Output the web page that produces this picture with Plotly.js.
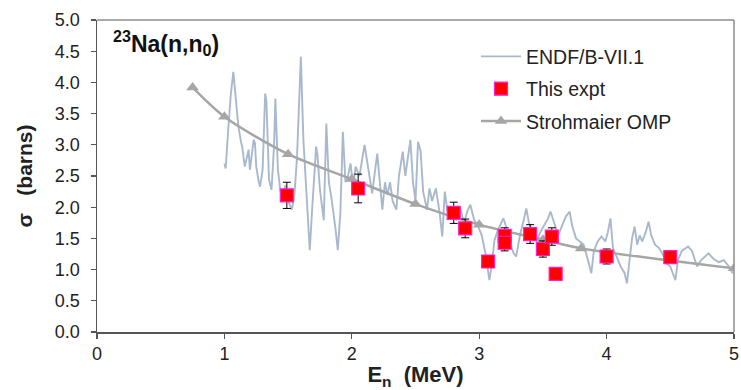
<!DOCTYPE html>
<html>
<head>
<meta charset="utf-8">
<script src="https://cdn.plot.ly/plotly-3.0.1.min.js"></script>
<style>html,body{margin:0;padding:0;background:#fff;}#chart{width:741px;height:390px;}</style>
</head>
<body>
<div id="chart"></div>
<script>
// ENDF/B-VII.1 evaluation
const endfE = [1.00,1.01,1.03,1.05,1.07,1.09,1.11,1.13,1.14,1.16,1.18,1.19,1.20,1.22,1.23,1.24,1.25,1.27,1.28,1.30,1.32,1.33,1.35,1.37,1.39,1.40,1.42,1.44,1.46,1.48,1.50,1.53,1.55,1.57,1.60,1.62,1.64,1.67,1.69,1.72,1.73,1.75,1.78,1.80,1.82,1.84,1.87,1.89,1.91,1.93,1.95,1.97,1.99,2.01,2.03,2.06,2.10,2.12,2.16,2.18,2.20,2.22,2.24,2.26,2.28,2.30,2.32,2.35,2.37,2.40,2.42,2.46,2.48,2.50,2.52,2.54,2.56,2.59,2.61,2.63,2.66,2.69,2.71,2.73,2.75,2.78,2.82,2.85,2.88,2.91,2.93,2.96,2.99,3.02,3.05,3.08,3.10,3.12,3.15,3.19,3.21,3.24,3.27,3.29,3.32,3.35,3.37,3.39,3.42,3.45,3.48,3.51,3.54,3.56,3.59,3.62,3.65,3.68,3.71,3.73,3.76,3.79,3.82,3.86,3.88,3.90,3.93,3.96,3.99,4.01,4.03,4.05,4.08,4.11,4.14,4.16,4.18,4.20,4.22,4.24,4.26,4.28,4.31,4.33,4.35,4.38,4.41,4.44,4.47,4.50,4.54,4.56,4.59,4.62,4.64,4.67,4.71,4.74,4.77,4.80,4.84,4.88,4.92,4.96,4.99];
const endfSigma = [2.70,2.62,3.24,3.80,4.17,3.70,3.29,3.05,2.97,2.65,2.85,2.92,2.60,2.90,3.08,3.02,2.65,2.40,2.33,2.60,3.82,3.70,2.44,2.28,3.00,3.74,2.60,2.25,2.20,2.35,2.10,1.96,2.20,2.80,4.41,3.08,2.30,1.31,2.01,2.97,2.85,2.28,1.79,3.34,2.40,2.15,1.69,1.31,1.90,3.21,2.40,2.50,2.70,2.35,2.65,2.50,3.00,2.72,2.22,2.55,2.86,2.40,1.96,2.40,2.20,2.40,2.10,1.96,2.50,2.89,2.50,3.08,2.40,2.10,3.05,2.90,2.25,1.96,2.30,2.10,2.30,1.90,1.53,2.25,1.95,1.85,1.80,2.00,1.75,1.95,2.04,1.80,1.70,1.55,1.25,0.83,1.10,1.47,1.65,1.82,1.70,1.45,1.26,1.21,1.55,1.80,1.98,1.75,1.60,1.45,1.60,1.70,1.82,1.93,1.75,1.55,1.70,1.85,1.93,1.70,1.50,1.45,1.40,1.10,0.94,1.30,1.45,1.53,1.45,1.60,1.82,1.35,1.20,1.05,0.95,0.78,1.15,1.50,1.69,1.40,1.55,1.45,1.62,1.77,1.55,1.40,1.35,1.25,1.10,1.05,0.83,1.15,1.30,1.35,1.37,1.30,1.05,1.15,1.20,1.26,1.17,1.12,1.15,1.05,0.94];

// This experiment
const exptE = [1.49,2.05,2.80,2.89,3.07,3.20,3.20,3.40,3.50,3.57,3.60,4.00,4.50];
const exptSigma = [2.19,2.30,1.91,1.66,1.13,1.54,1.43,1.57,1.33,1.53,0.93,1.21,1.20];
const exptErr = [0.21,0.23,0.17,0.15,0.05,0.13,0.13,0.15,0.13,0.14,0.05,0.12,0.10];

// Strohmaier OMP
const ompE = [0.75,1.0,1.5,2.0,2.5,3.0,3.5,3.8,5.0];
const ompSigma = [3.92,3.45,2.85,2.45,2.05,1.72,1.48,1.34,1.02];

const FONT = 'Liberation Sans, Arial, sans-serif';

const traces = [
  {x: endfE, y: endfSigma, type: 'scatter', mode: 'lines', name: 'ENDF/B-VII.1',
   line: {color: '#a9b9cd', width: 1.9}, legendrank: 1, legendgroup: 'a'},
  {x: ompE, y: ompSigma, type: 'scatter', mode: 'lines+markers', name: 'Strohmaier OMP',
   line: {color: '#a6a6a6', width: 2.5, shape: 'spline', smoothing: 0.8},
   marker: {symbol: 'triangle-up', size: 11, color: '#a6a6a6'}, legendrank: 3, legendgroup: 'c'},
  {x: exptE, y: exptSigma, type: 'scatter', mode: 'markers', name: 'This expt',
   marker: {symbol: 'square', size: 13, color: '#ff0000', line: {color: '#ff1fd0', width: 1.2}},
   error_y: {type: 'data', array: exptErr, visible: true, color: '#000000', thickness: 1, width: 4},
   legendrank: 2, legendgroup: 'b'}
];

const layout = {
  width: 741, height: 390,
  margin: {l: 97, r: 7, t: 20, b: 58},
  paper_bgcolor: '#ffffff', plot_bgcolor: '#ffffff',
  font: {family: FONT, color: '#222222'},
  showlegend: true,
  legend: {x: 0.595, y: 0.945, xanchor: 'left', yanchor: 'top', bgcolor: 'rgba(0,0,0,0)',
           font: {size: 19.5, family: FONT, color: '#222222'}, traceorder: 'grouped',
           tracegroupgap: 4, itemwidth: 40},
  xaxis: {range: [0, 5], dtick: 1, tick0: 0, showgrid: false, zeroline: false,
          showline: true, linecolor: '#555555', linewidth: 1.5,
          ticks: 'outside', ticklen: 5, tickcolor: '#555555', tickwidth: 1.2,
          tickfont: {size: 18, family: FONT, color: '#222222'},
          title: {text: '<b>E<sub>n</sub>  (MeV)</b>', font: {size: 22, family: FONT, color: '#222222'}, standoff: 5}},
  yaxis: {range: [0, 5], dtick: 0.5, tick0: 0, tickformat: '.1f', showgrid: false, zeroline: false,
          showline: true, linecolor: '#555555', linewidth: 1.5,
          ticks: 'outside', ticklen: 5, tickcolor: '#555555', tickwidth: 1.2,
          ticklabelstandoff: 7,
          tickfont: {size: 18, family: FONT, color: '#222222'},
          title: {text: '<b>σ   (barns)</b>', font: {size: 21, family: FONT, color: '#222222'}, standoff: 16}},
  shapes: [
    {type: 'line', xref: 'paper', yref: 'paper', x0: 0, x1: 1, y0: 1, y1: 1, line: {color: '#8c8c8c', width: 1.5}},
    {type: 'line', xref: 'paper', yref: 'paper', x0: 1, x1: 1, y0: 0, y1: 1, line: {color: '#8c8c8c', width: 1.5}}
  ],
  annotations: [
    {text: '<b><sup>23</sup>Na(n,n<sub>0</sub>)</b>', xref: 'paper', yref: 'paper', x: 0.022, y: 0.925,
     xanchor: 'left', yanchor: 'middle', showarrow: false, font: {size: 23, family: FONT, color: '#111111'}}
  ]
};

Plotly.newPlot('chart', traces, layout, {displayModeBar: false, staticPlot: true});
</script>
</body>
</html>
